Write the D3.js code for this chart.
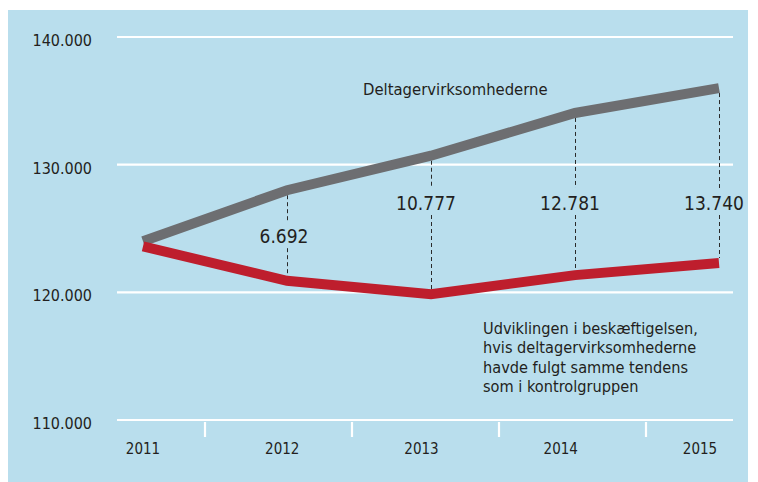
<!DOCTYPE html>
<html>
<head>
<meta charset="utf-8">
<script src="https://cdn.jsdelivr.net/npm/d3@7"></script>
<style>
  body { margin: 0; background: #fff; }
  text { font-family: "DejaVu Sans Condensed", "DejaVu Sans", sans-serif; font-stretch: condensed; fill: #231f20; }
</style>
</head>
<body>
<div id="chart"></div>
<script>
// data
var years = [2011, 2012, 2013, 2014, 2015];
var participants = [124000, 128000, 130700, 134050, 136000];
var counterfactual = [123600, 120900, 119850, 121350, 122300];
var diffYears = [2012, 2013, 2014, 2015];
var diffs = [6692, 10777, 12781, 13740];
var yTicks = [110000, 120000, 130000, 140000];
var seriesLabel = "Deltagervirksomhederne";
var noteLines = ["Udviklingen i beskæftigelsen,", "hvis deltagervirksomhederne", "havde fulgt samme tendens", "som i kontrolgruppen"];

var width = 758, height = 482;
var fmt = d3.formatLocale({decimal: ",", thousands: ".", grouping: [3], currency: ["", " kr."]}).format(",d");

var svg = d3.select("#chart").append("svg")
  .attr("width", width)
  .attr("height", height);

svg.append("rect")
  .attr("x", 8).attr("y", 10)
  .attr("width", 740).attr("height", 472)
  .attr("fill", "#b9deed");

var x = d3.scalePoint().domain(years).range([143, 719]);
var xLab = d3.scalePoint().domain(years).range([143, 700]);
var xSep = d3.scalePoint().domain(d3.range(4)).range([205, 646]);
var y = d3.scaleLinear().domain([110000, 140000]).range([420, 37]);

// grid
svg.append("g").selectAll("line")
  .data(yTicks)
  .join("line")
  .attr("x1", 117).attr("x2", 733)
  .attr("y1", function(d) { return y(d); })
  .attr("y2", function(d) { return y(d); })
  .attr("stroke", "#fff")
  .attr("stroke-width", 2.2);

svg.append("g").selectAll("text")
  .data(yTicks)
  .join("text")
  .attr("x", 92)
  .attr("y", function(d) { return y(d) + 9; })
  .attr("text-anchor", "end")
  .attr("font-size", 16)
  .text(function(d) { return fmt(d); });

// separators between years
svg.append("g").selectAll("line")
  .data(xSep.domain())
  .join("line")
  .attr("x1", function(d) { return xSep(d); })
  .attr("x2", function(d) { return xSep(d); })
  .attr("y1", 422).attr("y2", 437)
  .attr("stroke", "#fff")
  .attr("stroke-width", 2.2);

svg.append("g").selectAll("text")
  .data(years)
  .join("text")
  .attr("x", function(d) { return xLab(d); })
  .attr("y", 454)
  .attr("text-anchor", "middle")
  .attr("font-size", 15)
  .text(function(d) { return d; });

var line = d3.line()
  .x(function(d, i) { return x(years[i]); })
  .y(function(d) { return y(d); });

// dashed difference lines, broken around the label
var dg = svg.append("g");
diffYears.forEach(function(yr, i) {
  var k = years.indexOf(yr);
  var yg = y(participants[k]), yr2 = y(counterfactual[k]);
  var cy = Math.max(203, yg + 46);
  var lx = Math.round(x(yr)) + 0.5;
  var segs = [[yg + 5, cy - 15], [cy + 12, yr2 - 5]];
  segs.forEach(function(s) {
    dg.append("line")
      .attr("x1", lx).attr("x2", lx)
      .attr("y1", s[0]).attr("y2", s[1])
      .attr("stroke", "#2a2a2a")
      .attr("stroke-width", 1)
      .attr("stroke-dasharray", "4,3");
  });
  dg.append("text")
    .attr("x", x(yr) - (i === 0 ? 3 : 5))
    .attr("y", cy + 7)
    .attr("text-anchor", "middle")
    .attr("font-size", 19)
    .text(fmt(diffs[i]));
});

svg.append("path")
  .datum(participants)
  .attr("d", line)
  .attr("fill", "none")
  .attr("stroke", "#6d6e71")
  .attr("stroke-width", 10);

svg.append("path")
  .datum(counterfactual)
  .attr("d", line)
  .attr("fill", "none")
  .attr("stroke", "#be1e2d")
  .attr("stroke-width", 10);

svg.append("text")
  .attr("x", 363).attr("y", 95)
  .attr("font-size", 16.5)
  .text(seriesLabel);

svg.append("g").selectAll("text")
  .data(noteLines)
  .join("text")
  .attr("x", 483)
  .attr("y", function(d, i) { return 334 + i * 19.3; })
  .attr("font-size", 16.2)
  .text(function(d) { return d; });
</script>
</body>
</html>
